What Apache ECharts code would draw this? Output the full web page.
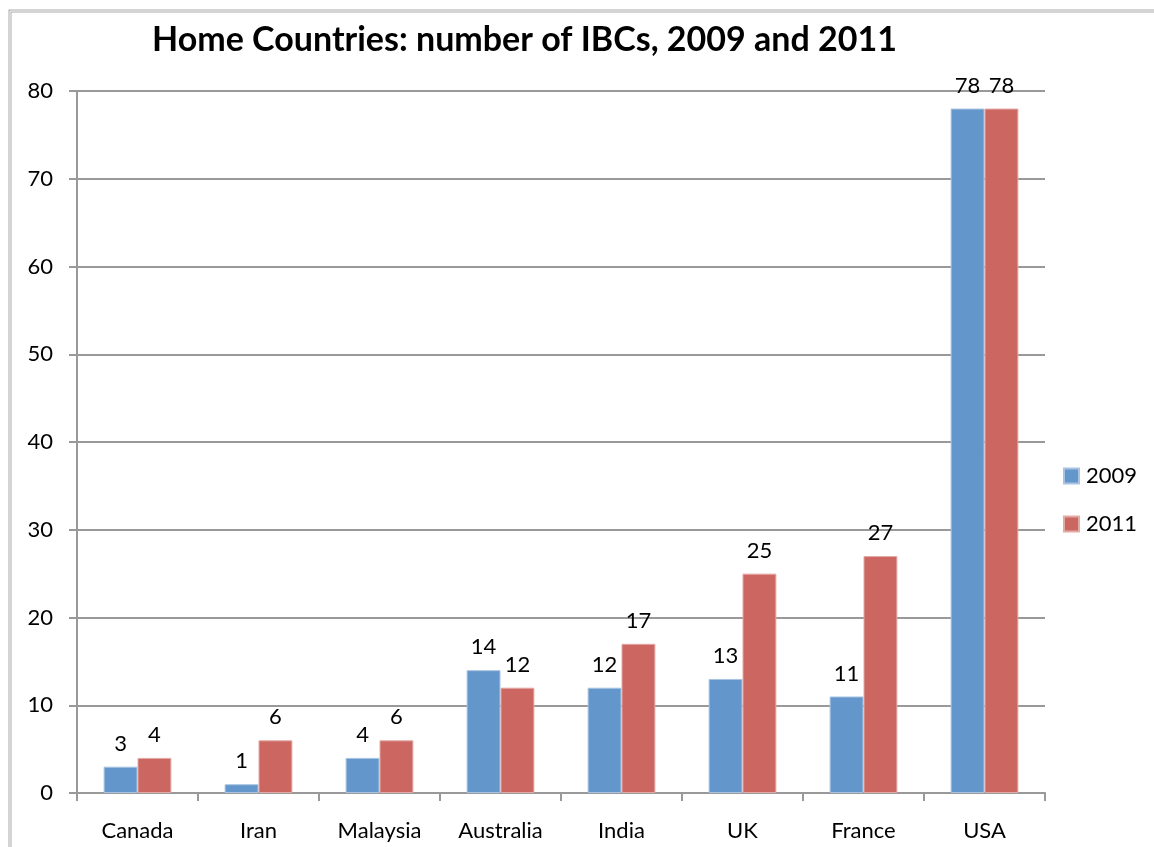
<!DOCTYPE html>
<html><head><meta charset="utf-8">
<script src="https://cdn.jsdelivr.net/npm/echarts@6/dist/echarts.min.js"></script>
<style>html,body{margin:0;padding:0;background:#fff;}#c{width:1154px;height:847px;}</style>
</head><body><div id="c"></div>
<script>
const categories = ['Canada','Iran','Malaysia','Australia','India','UK','France','USA'];
const values2009 = [3,1,4,14,12,13,11,78];
const values2011 = [4,6,6,12,17,25,27,78];
const yTicks = [0,10,20,30,40,50,60,70,80];
const font = 'Lato, "Open Sans", sans-serif';
const chart = echarts.init(document.getElementById('c'));
const lbl = {show:true, position:'top', distance:12, color:'#000', fontSize:22, fontFamily:font};
chart.setOption({
  animation:false,
  title:{text:'Home Countries: number of IBCs, 2009 and 2011', left:147, top:18,
    textStyle:{fontFamily:font, fontWeight:'bold', fontSize:34, color:'#000'}},
  graphic:[{type:'rect', shape:{x:10,y:11,width:2000,height:2000}, style:{fill:'none', stroke:'#aaa', lineWidth:3}, silent:true},
           {type:'rect', shape:{x:10,y:11,width:2000,height:2000}, style:{fill:'none', stroke:'#fff', lineWidth:1}, silent:true}],
  legend:{orient:'vertical', left:1058, top:460, itemWidth:15, itemHeight:15, itemGap:26,
    icon:'rect', textStyle:{fontFamily:font, fontSize:22, color:'#000', padding:[0,0,0,2]}},
  grid:{left:77, right:109, top:91, bottom:54, containLabel:false},
  xAxis:{type:'category', data:categories,
    axisLine:{lineStyle:{color:'#999', width:2}},
    axisTick:{show:true, length:8, lineStyle:{color:'#999', width:2}},
    axisLabel:{color:'#000', fontSize:22, fontFamily:font, margin:27}},
  yAxis:{type:'value', min:0, max:80, interval:10,
    axisLine:{show:true, lineStyle:{color:'#999', width:2}},
    axisTick:{show:true, length:8, lineStyle:{color:'#999', width:2}},
    axisLabel:{color:'#000', fontSize:22, fontFamily:font, margin:24,
      formatter:v=>yTicks.includes(v)?String(v):''},
    splitLine:{lineStyle:{color:'#999', width:2}}},
  series:[
    {name:'2009', type:'bar', data:values2009, barGap:'0%', barCategoryGap:'44%',
      itemStyle:{color:'#6396CA', borderColor:'#a9c4e2', borderWidth:1}, label:lbl},
    {name:'2011', type:'bar', data:values2011,
      itemStyle:{color:'#CC6661', borderColor:'#e3a9a6', borderWidth:1}, label:lbl}
  ]
});
</script></body></html>
